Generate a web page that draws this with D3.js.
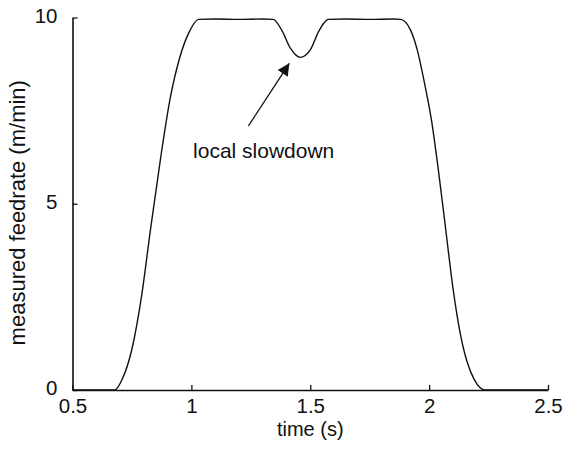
<!DOCTYPE html>
<html>
<head>
<meta charset="utf-8">
<script src="https://cdn.jsdelivr.net/npm/d3@7"></script>
<style>
  body { margin: 0; background: #fff; }
  svg text { font-family: "Liberation Sans", Arial, sans-serif; fill: #111; }
</style>
</head>
<body>
<div id="graphDiv"></div>
<script>
// measured feedrate vs time
const time = [0.5, 0.6, 0.677, 0.71, 0.75, 0.79, 0.83, 0.87, 0.91, 0.95, 0.99, 1.03, 1.1, 1.2, 1.3, 1.344,
  1.38, 1.417, 1.458, 1.50, 1.535, 1.556, 1.576, 1.65, 1.75, 1.85, 1.88,
  1.922, 1.95, 1.978, 2.01, 2.04, 2.07, 2.10, 2.13, 2.16, 2.19, 2.236, 2.3, 2.4, 2.5];
const feedrate = [0, 0, 0, 0.3, 1.1, 2.5, 4.4, 6.2, 7.8, 8.9, 9.6, 9.95, 9.96, 9.95, 9.96, 9.95,
  9.66, 9.17, 8.93, 9.13, 9.62, 9.84, 9.95, 9.96, 9.95, 9.96, 9.95,
  9.66, 9.13, 8.32, 7.24, 5.85, 4.3, 2.75, 1.55, 0.75, 0.28, 0, 0, 0, 0];
const xTicks = [0.5, 1, 1.5, 2, 2.5];
const yTicks = [0, 5, 10];
const annotation = "local slowdown";
const annotationText = [1.007, 6.23];   // left end of the text baseline
const arrowTail = [1.24, 7.09];
const arrowTip = [1.412, 8.77];

const width = 574, height = 449;
const margin = {top: 17.5, right: 26, bottom: 59, left: 72.5};

const svg = d3.select("#graphDiv")
    .append("svg")
    .attr("width", width)
    .attr("height", height);

const x = d3.scaleLinear()
    .domain([0.5, 2.5])
    .range([margin.left, width - margin.right]);
const y = d3.scaleLinear()
    .domain([0, 10])
    .range([height - margin.bottom, margin.top]);

//X axis, ticks pointing inwards
const xAxis = svg.append("g")
    .attr("transform", `translate(0,${y(0)})`)
    .call(d3.axisBottom(x).tickValues(xTicks).tickFormat(d3.format("")).tickSizeInner(-5).tickSizeOuter(0).tickPadding(8.5));
//Y axis
const yAxis = svg.append("g")
    .attr("transform", `translate(${x(0.5)},0)`)
    .call(d3.axisLeft(y).tickValues(yTicks).tickSizeInner(-5).tickSizeOuter(0).tickPadding(15));

[xAxis, yAxis].forEach(a => {
    a.select(".domain").attr("stroke", "#111").attr("stroke-width", 1.6);
    a.selectAll(".tick line").attr("stroke", "#111").attr("stroke-width", 1.3);
    a.selectAll(".tick text").attr("font-size", 20.5).attr("fill", "#111");
});
yAxis.selectAll(".tick text").attr("dy", "0.22em");

//axis labels
svg.append("text")
    .attr("x", (x(0.5) + x(2.5)) / 2)
    .attr("y", 435.5)
    .attr("text-anchor", "middle")
    .attr("font-size", 20)
    .text("time (s)");

svg.append("text")
    .attr("transform", `translate(25,${(y(0) + y(10)) / 2 + 9}) rotate(-90)`)
    .attr("text-anchor", "middle")
    .attr("font-size", 22)
    .text("measured feedrate (m/min)");

//the line
svg.append("path")
    .datum(d3.zip(time, feedrate))
    .attr("fill", "none")
    .attr("stroke", "#111")
    .attr("stroke-width", 1.4)
    .attr("d", d3.line()
        .x(d => x(d[0]))
        .y(d => y(d[1]))
        .curve(d3.curveMonotoneX));

//annotation with arrow
svg.append("defs").append("marker")
    .attr("id", "head")
    .attr("viewBox", "0 0 10 10")
    .attr("refX", 10).attr("refY", 5)
    .attr("markerWidth", 13).attr("markerHeight", 12)
    .attr("markerUnits", "userSpaceOnUse")
    .attr("orient", "auto")
    .append("path")
    .attr("d", "M0,0L10,5L0,10Z")
    .attr("fill", "#111");

svg.append("line")
    .attr("x1", x(arrowTail[0])).attr("y1", y(arrowTail[1]))
    .attr("x2", x(arrowTip[0])).attr("y2", y(arrowTip[1]))
    .attr("stroke", "#111")
    .attr("stroke-width", 1.3)
    .attr("marker-end", "url(#head)");

svg.append("text")
    .attr("x", x(annotationText[0]))
    .attr("y", y(annotationText[1]))
    .attr("font-size", 21)
    .text(annotation);
</script>
</body>
</html>
